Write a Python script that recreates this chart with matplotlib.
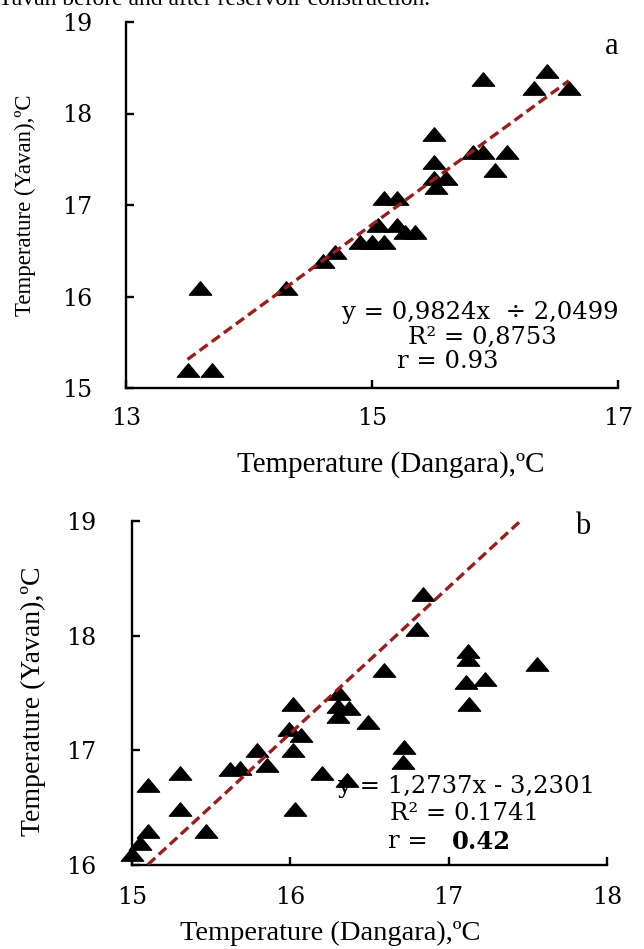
import matplotlib
matplotlib.use('Agg')
import matplotlib.pyplot as plt
from matplotlib.path import Path

# panel a: Dangara vs Yavan before reservoir construction
xa = [13.5, 13.7, 13.6, 14.3, 14.6, 14.7, 14.9, 15.0, 15.1, 15.05, 15.2, 15.27, 15.35,
      15.1, 15.2, 15.52, 15.6, 15.5, 15.5, 15.5, 15.82, 15.9, 16.1, 16.0, 15.9, 16.32,
      16.42, 16.6]
ya = [15.2, 15.2, 16.09, 16.09, 16.39, 16.49, 16.6, 16.6, 16.6, 16.78, 16.78, 16.7, 16.7,
      17.08, 17.08, 17.2, 17.3, 17.3, 17.47, 17.78, 17.58, 17.58, 17.58, 17.38, 18.38,
      18.28, 18.46, 18.28]
fit_a = (0.9824, 2.0499)
fit_a_x = [13.5, 16.6]

# panel b: after reservoir construction
xb = [15.0, 15.05, 15.1, 15.1, 15.3, 15.3, 15.47, 15.62, 15.68, 15.79, 15.85, 16.02,
      15.99, 16.07, 16.02, 16.03, 16.2, 16.31, 16.3, 16.37, 16.3, 16.36, 16.49, 16.59,
      16.72, 16.71, 16.8, 16.84, 17.12, 17.12, 17.11, 17.23, 17.13, 17.56]
yb = [16.1, 16.19, 16.3, 16.7, 16.8, 16.49, 16.3, 16.84, 16.85, 17.0, 16.87, 17.4,
      17.19, 17.13, 17.0, 16.49, 16.8, 17.5, 17.39, 17.37, 17.3, 16.74, 17.25, 17.7,
      17.03, 16.9, 18.06, 18.36, 17.87, 17.8, 17.6, 17.62, 17.4, 17.75]
fit_b = (1.2737, -3.2301)
fit_b_x = [15.1, 17.45]

W, H = 644, 949
fig = plt.figure(figsize=(W / 100, H / 100), dpi=100)


def px(x, y):
    return x / W, 1 - y / H


def box(l, t, r, b):
    return [l / W, 1 - b / H, (r - l) / W, (b - t) / H]


tri = Path([(0, 0.6), (-1, -0.6), (1, -0.6), (0, 0.6)],
           [Path.MOVETO, Path.LINETO, Path.LINETO, Path.CLOSEPOLY])
red = '#9e1b1b'
serif = 'Liberation Serif'
tickfont = 'DejaVu Serif'


def style(ax, xt, yt, ypad, xpad):
    for s in ['top', 'right']:
        ax.spines[s].set_visible(False)
    for s in ['left', 'bottom']:
        ax.spines[s].set_linewidth(1.7)
    ax.set_xticks(xt)
    ax.set_yticks(yt)
    ax.tick_params(direction='in', length=6, width=1.7, labelsize=17)
    ax.tick_params(axis='y', pad=ypad)
    ax.tick_params(axis='x', pad=xpad)
    for lab in ax.get_xticklabels() + ax.get_yticklabels():
        lab.set_fontfamily(tickfont)


# top caption (cut off in the source)
fig.text(-0.004, 1 - 5 / H, 'Yavan before and after reservoir construction.',
         family=serif, fontsize=17, va='baseline', ha='left')

# ---- panel a
ax1 = fig.add_axes(box(126, 22, 618, 388))
ax1.set_xlim(13, 17)
ax1.set_ylim(15, 19)
ax1.scatter(xa, ya, marker=tri, s=16 ** 2, color='black', zorder=2, clip_on=False)
ax1.plot(fit_a_x, [fit_a[0] * x + fit_a[1] for x in fit_a_x], color=red, lw=2.4,
         dashes=(3, 1.5), zorder=3)
style(ax1, [13, 15, 17], [15, 16, 17, 18, 19], 24, 14)

fig.text(*px(391, 465), 'Temperature (Dangara),ºC', family=serif, fontsize=21,
         ha='center', va='center')
fig.text(*px(25, 205), 'Temperature (Yavan),ºC', family=serif, fontsize=16.5,
         ha='center', va='center', rotation=90)
fig.text(*px(612, 46), 'a', family=serif, fontsize=22, ha='center', va='center')

fig.text(*px(480, 313), 'y = 0,9824x  ÷ 2,0499', family=tickfont, fontsize=17.5,
         ha='center', va='center')
fig.text(*px(482, 337), 'R² = 0,8753', family=tickfont, fontsize=17.5,
         ha='center', va='center')
fig.text(*px(448, 362), 'r = 0.93', family=tickfont, fontsize=17.5,
         ha='center', va='center')

# ---- panel b
ax2 = fig.add_axes(box(132, 521, 607, 865))
ax2.set_xlim(15, 18)
ax2.set_ylim(16, 19)
ax2.scatter(xb, yb, marker=tri, s=16 ** 2, color='black', zorder=2, clip_on=False)
ax2.plot(fit_b_x, [fit_b[0] * x + fit_b[1] for x in fit_b_x], color=red, lw=2.4,
         dashes=(3, 1.5), zorder=3)
style(ax2, [15, 16, 17, 18], [16, 17, 18, 19], 26, 15)

fig.text(*px(330, 933), 'Temperature (Dangara),ºC', family=serif, fontsize=20.5,
         ha='center', va='center')
fig.text(*px(33, 701), 'Temperature (Yavan),ºC', family=serif, fontsize=20,
         ha='center', va='center', rotation=90)
fig.text(*px(583, 526), 'b', family=serif, fontsize=22, ha='center', va='center')

fig.text(*px(466, 786), 'y = 1,2737x - 3,2301', family=tickfont, fontsize=17.5,
         ha='center', va='center')
fig.text(*px(465, 813), 'R² = 0.1741', family=tickfont, fontsize=17.5,
         ha='center', va='center')
fig.text(*px(388, 842), 'r =', family=tickfont, fontsize=17.5, ha='left', va='center')
fig.text(*px(452, 842), '0.42', family=tickfont, fontsize=17.5, fontweight='bold',
         ha='left', va='center')

fig.savefig('out.png', dpi=100)
